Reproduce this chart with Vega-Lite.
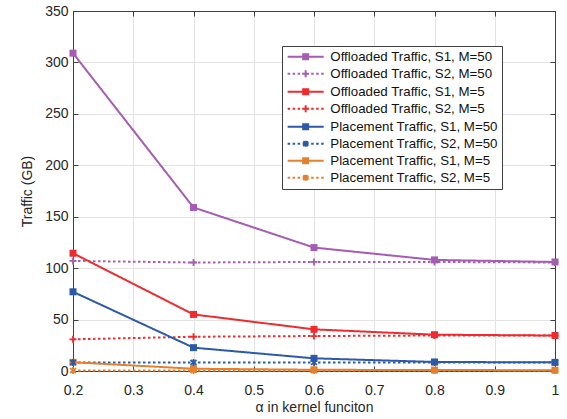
{
  "$schema": "https://vega.github.io/schema/vega-lite/v6.json",
  "width": 482,
  "height": 360,
  "autosize": "none",
  "padding": {"left": 73, "top": 11, "right": 12, "bottom": 48},
  "background": "white",
  "config": {
    "font": "Liberation Sans",
    "view": {"stroke": "#404040", "strokeWidth": 1},
    "axis": {
      "labelFont": "Liberation Sans",
      "titleFont": "Liberation Sans",
      "labelFontSize": 14,
      "titleFontSize": 14,
      "labelColor": "#262626",
      "titleColor": "#262626",
      "titleFontWeight": "normal",
      "labelFlush": false,
      "domainColor": "#404040",
      "tickColor": "#404040",
      "tickSize": -5,
      "gridColor": "#e3e3e3",
      "gridWidth": 1
    }
  },
  "data": {
    "values": [
      {"alpha": 0.2, "traffic": 309, "series": "Offloaded Traffic, S1, M=50", "scheme": "S1", "kind": "Offloaded"},
      {"alpha": 0.4, "traffic": 159, "series": "Offloaded Traffic, S1, M=50", "scheme": "S1", "kind": "Offloaded"},
      {"alpha": 0.6, "traffic": 120, "series": "Offloaded Traffic, S1, M=50", "scheme": "S1", "kind": "Offloaded"},
      {"alpha": 0.8, "traffic": 108, "series": "Offloaded Traffic, S1, M=50", "scheme": "S1", "kind": "Offloaded"},
      {"alpha": 1.0, "traffic": 106, "series": "Offloaded Traffic, S1, M=50", "scheme": "S1", "kind": "Offloaded"},
      {"alpha": 0.2, "traffic": 107, "series": "Offloaded Traffic, S2, M=50", "scheme": "S2", "kind": "Offloaded"},
      {"alpha": 0.4, "traffic": 105.5, "series": "Offloaded Traffic, S2, M=50", "scheme": "S2", "kind": "Offloaded"},
      {"alpha": 0.6, "traffic": 106, "series": "Offloaded Traffic, S2, M=50", "scheme": "S2", "kind": "Offloaded"},
      {"alpha": 0.8, "traffic": 106, "series": "Offloaded Traffic, S2, M=50", "scheme": "S2", "kind": "Offloaded"},
      {"alpha": 1.0, "traffic": 105.5, "series": "Offloaded Traffic, S2, M=50", "scheme": "S2", "kind": "Offloaded"},
      {"alpha": 0.2, "traffic": 114.5, "series": "Offloaded Traffic, S1, M=5", "scheme": "S1", "kind": "Offloaded"},
      {"alpha": 0.4, "traffic": 55, "series": "Offloaded Traffic, S1, M=5", "scheme": "S1", "kind": "Offloaded"},
      {"alpha": 0.6, "traffic": 40.5, "series": "Offloaded Traffic, S1, M=5", "scheme": "S1", "kind": "Offloaded"},
      {"alpha": 0.8, "traffic": 35.3, "series": "Offloaded Traffic, S1, M=5", "scheme": "S1", "kind": "Offloaded"},
      {"alpha": 1.0, "traffic": 34.5, "series": "Offloaded Traffic, S1, M=5", "scheme": "S1", "kind": "Offloaded"},
      {"alpha": 0.2, "traffic": 30.8, "series": "Offloaded Traffic, S2, M=5", "scheme": "S2", "kind": "Offloaded"},
      {"alpha": 0.4, "traffic": 33.3, "series": "Offloaded Traffic, S2, M=5", "scheme": "S2", "kind": "Offloaded"},
      {"alpha": 0.6, "traffic": 34, "series": "Offloaded Traffic, S2, M=5", "scheme": "S2", "kind": "Offloaded"},
      {"alpha": 0.8, "traffic": 34.5, "series": "Offloaded Traffic, S2, M=5", "scheme": "S2", "kind": "Offloaded"},
      {"alpha": 1.0, "traffic": 34.5, "series": "Offloaded Traffic, S2, M=5", "scheme": "S2", "kind": "Offloaded"},
      {"alpha": 0.2, "traffic": 77, "series": "Placement Traffic, S1, M=50", "scheme": "S1", "kind": "Placement"},
      {"alpha": 0.4, "traffic": 22.7, "series": "Placement Traffic, S1, M=50", "scheme": "S1", "kind": "Placement"},
      {"alpha": 0.6, "traffic": 12.3, "series": "Placement Traffic, S1, M=50", "scheme": "S1", "kind": "Placement"},
      {"alpha": 0.8, "traffic": 8.8, "series": "Placement Traffic, S1, M=50", "scheme": "S1", "kind": "Placement"},
      {"alpha": 1.0, "traffic": 8.4, "series": "Placement Traffic, S1, M=50", "scheme": "S1", "kind": "Placement"},
      {"alpha": 0.2, "traffic": 8.3, "series": "Placement Traffic, S2, M=50", "scheme": "S2", "kind": "Placement"},
      {"alpha": 0.4, "traffic": 8.3, "series": "Placement Traffic, S2, M=50", "scheme": "S2", "kind": "Placement"},
      {"alpha": 0.6, "traffic": 8.3, "series": "Placement Traffic, S2, M=50", "scheme": "S2", "kind": "Placement"},
      {"alpha": 0.8, "traffic": 8.3, "series": "Placement Traffic, S2, M=50", "scheme": "S2", "kind": "Placement"},
      {"alpha": 1.0, "traffic": 8.3, "series": "Placement Traffic, S2, M=50", "scheme": "S2", "kind": "Placement"},
      {"alpha": 0.2, "traffic": 8.5, "series": "Placement Traffic, S1, M=5", "scheme": "S1", "kind": "Placement"},
      {"alpha": 0.4, "traffic": 2.2, "series": "Placement Traffic, S1, M=5", "scheme": "S1", "kind": "Placement"},
      {"alpha": 0.6, "traffic": 1.2, "series": "Placement Traffic, S1, M=5", "scheme": "S1", "kind": "Placement"},
      {"alpha": 0.8, "traffic": 0.9, "series": "Placement Traffic, S1, M=5", "scheme": "S1", "kind": "Placement"},
      {"alpha": 1.0, "traffic": 0.8, "series": "Placement Traffic, S1, M=5", "scheme": "S1", "kind": "Placement"},
      {"alpha": 0.2, "traffic": 0.4, "series": "Placement Traffic, S2, M=5", "scheme": "S2", "kind": "Placement"},
      {"alpha": 0.4, "traffic": 0.4, "series": "Placement Traffic, S2, M=5", "scheme": "S2", "kind": "Placement"},
      {"alpha": 0.6, "traffic": 0.4, "series": "Placement Traffic, S2, M=5", "scheme": "S2", "kind": "Placement"},
      {"alpha": 0.8, "traffic": 0.4, "series": "Placement Traffic, S2, M=5", "scheme": "S2", "kind": "Placement"},
      {"alpha": 1.0, "traffic": 0.4, "series": "Placement Traffic, S2, M=5", "scheme": "S2", "kind": "Placement"}
    ]
  },
  "encoding": {
    "color": {
      "field": "series",
      "type": "nominal",
      "scale": {
        "domain": [
          "Offloaded Traffic, S1, M=50",
          "Offloaded Traffic, S2, M=50",
          "Offloaded Traffic, S1, M=5",
          "Offloaded Traffic, S2, M=5",
          "Placement Traffic, S1, M=50",
          "Placement Traffic, S2, M=50",
          "Placement Traffic, S1, M=5",
          "Placement Traffic, S2, M=5"
        ],
        "range": ["#A55CB2", "#A55CB2", "#EE2B2F", "#EE2B2F", "#2C5AA8", "#2C5AA8", "#E5812E", "#E5812E"]
      },
      "legend": {
        "title": null,
        "orient": "none",
        "legendX": 209,
        "legendY": 35,
        "padding": 4,
        "fillColor": "white",
        "strokeColor": "#404040",
        "labelFont": "Liberation Sans",
        "labelFontSize": 13.3,
        "labelColor": "#111111",
        "labelLimit": 400,
        "labelOffset": 31,
        "labelExpr": "datum.label + '   '",
        "symbolSize": 100,
        "symbolStrokeWidth": 2,
        "rowPadding": 2,
        "encode": {
          "symbols": {
            "update": {
              "shape": {
                "signal": "datum.index % 2 == 0 ? 'M-1,0H6.2M2.1,-0.5H3.1V0.5H2.1Z' : (datum.index < 4 ? 'M-1,0H-0.5M0,0H0.5M1,0H1.5M2,0H3.2M3.7,0H4.2M4.7,0H5.2M5.7,0H6.2M2.6,-0.7V0.7M1.9,0H3.3' : 'M-1,0H-0.5M0,0H0.5M1,0H1.5M2,0H3.2M3.7,0H4.2M4.7,0H5.2M5.7,0H6.2M2.6,-0.6V0.6M2.1,-0.45L3.1,0.45M2.1,0.45L3.1,-0.45')"
              },
              "fill": {"signal": "scale('color', datum.value)"},
              "stroke": {"signal": "scale('color', datum.value)"},
              "strokeWidth": {"value": 2},
              "strokeDash": {"value": []}
            }
          }
        }
      }
    }
  },
  "resolve": {"axis": {"x": "independent", "y": "independent"}},
  "layer": [
    {
      "mark": {"type": "line", "strokeWidth": 2},
      "encoding": {
        "x": {
          "field": "alpha",
          "type": "quantitative",
          "scale": {"domain": [0.2, 1], "nice": false, "zero": false},
          "axis": {
            "orient": "bottom",
            "title": "α in kernel funciton",
            "values": [0.2, 0.3, 0.4, 0.5, 0.6, 0.7, 0.8, 0.9, 1],
            "format": ".1~f",
            "labelPadding": 17,
            "titlePadding": 3,
            "grid": true
          }
        },
        "y": {
          "field": "traffic",
          "type": "quantitative",
          "scale": {"domain": [0, 350], "nice": false},
          "axis": {
            "orient": "left",
            "title": "Traffic (GB)",
            "values": [0, 50, 100, 150, 200, 250, 300, 350],
            "labelPadding": 10,
            "titlePadding": 10,
            "grid": true
          }
        },
        "detail": {"field": "series"},
        "strokeDash": {
          "field": "scheme",
          "type": "nominal",
          "scale": {"domain": ["S1", "S2"], "range": [[1, 0], [2.5, 2.5]]},
          "legend": null
        }
      }
    },
    {
      "transform": [{"filter": "datum.scheme == 'S1'"}],
      "mark": {"type": "point", "shape": "square", "filled": true, "size": 49, "opacity": 1},
      "encoding": {
        "x": {"field": "alpha", "type": "quantitative", "axis": null},
        "y": {"field": "traffic", "type": "quantitative", "axis": null}
      }
    },
    {
      "transform": [{"filter": "datum.scheme == 'S2' && datum.kind == 'Offloaded'"}],
      "mark": {"type": "point", "shape": "M0,-1V1M-1,0H1", "filled": false, "size": 49, "strokeWidth": 1.8, "opacity": 1},
      "encoding": {
        "x": {"field": "alpha", "type": "quantitative", "axis": null},
        "y": {"field": "traffic", "type": "quantitative", "axis": null}
      }
    },
    {
      "transform": [{"filter": "datum.scheme == 'S2' && datum.kind == 'Placement'"}],
      "mark": {"type": "point", "shape": "M0,-1V1M-0.85,-0.7L0.85,0.7M-0.85,0.7L0.85,-0.7", "filled": false, "size": 49, "strokeWidth": 1.8, "opacity": 1},
      "encoding": {
        "x": {"field": "alpha", "type": "quantitative", "axis": null},
        "y": {"field": "traffic", "type": "quantitative", "axis": null}
      }
    },
    {
      "mark": {"type": "rule", "opacity": 0},
      "encoding": {
        "x": {"field": "alpha", "type": "quantitative", "axis": {"orient": "top", "labels": false, "title": null, "grid": false, "values": [0.2, 0.3, 0.4, 0.5, 0.6, 0.7, 0.8, 0.9, 1]}},
        "y": {"field": "traffic", "type": "quantitative", "axis": {"orient": "right", "labels": false, "title": null, "grid": false, "values": [0, 50, 100, 150, 200, 250, 300, 350]}},
        "color": {"value": "black"}
      }
    }
  ]
}
